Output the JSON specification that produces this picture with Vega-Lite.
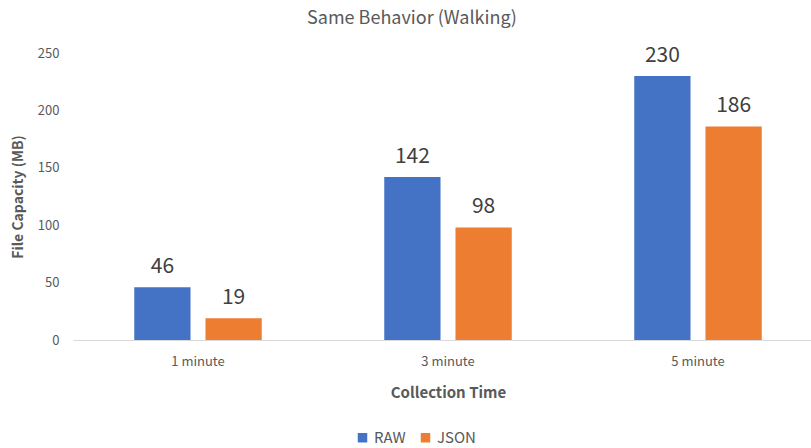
{
  "$schema": "https://vega.github.io/schema/vega-lite/v6.json",
  "width": 738,
  "height": 287,
  "autosize": "none",
  "padding": {"left": 73, "top": 53, "right": 0, "bottom": 108},
  "background": "white",
  "title": {"text": "Same Behavior (Walking)", "fontSize": 18, "font": "Noto Sans CJK KR", "fontWeight": "normal", "color": "#595959", "anchor": "middle", "frame": "group", "dx": -30, "offset": 17},
  "config": {"view": {"stroke": null}, "font": "Noto Sans CJK KR"},
  "data": {"values": [
    {"time": "1 minute", "type": "RAW", "value": 46},
    {"time": "1 minute", "type": "JSON", "value": 19},
    {"time": "3 minute", "type": "RAW", "value": 142},
    {"time": "3 minute", "type": "JSON", "value": 98},
    {"time": "5 minute", "type": "RAW", "value": 230},
    {"time": "5 minute", "type": "JSON", "value": 186}
  ]},
  "encoding": {
    "x": {"field": "time", "type": "nominal", "sort": ["1 minute", "3 minute", "5 minute"],
      "scale": {"range": [0, 750], "paddingInner": 0.49, "paddingOuter": 0.245},
      "axis": {"title": "Collection Time", "titleFontSize": 15, "titleColor": "#595959", "titleFontWeight": 600, "titlePadding": 17, "labelAngle": 0, "labelFontSize": 13, "labelColor": "#595959", "labelPadding": 15, "ticks": false, "domainColor": "#d9d9d9", "domainWidth": 1}},
    "xOffset": {"field": "type", "type": "nominal", "sort": ["RAW", "JSON"], "scale": {"paddingInner": 0.21, "paddingOuter": 0}},
    "y": {"field": "value", "type": "quantitative",
      "scale": {"domain": [0, 250]},
      "axis": {"title": "File Capacity (MB)", "titleFontSize": 14, "titleColor": "#595959", "titleFontWeight": 600, "titlePadding": 12, "values": [0, 50, 100, 150, 200, 250], "labelFontSize": 13, "labelColor": "#595959", "labelPadding": 14, "ticks": false, "domain": false, "grid": false}}
  },
  "layer": [
    {"mark": {"type": "bar"},
     "encoding": {"color": {"field": "type", "type": "nominal", "sort": ["RAW", "JSON"],
       "scale": {"domain": ["RAW", "JSON"], "range": ["#4472C4", "#ED7D31"]},
       "legend": {"title": null, "orient": "none", "direction": "horizontal", "legendX": 282, "legendY": 377, "symbolType": "square", "symbolSize": 90, "symbolStrokeWidth": 0, "labelFontSize": 15, "labelColor": "#595959", "columnPadding": 12, "labelOffset": 4}}}},
    {"mark": {"type": "text", "baseline": "alphabetic", "dy": -14, "fontSize": 21, "color": "#404040"},
     "encoding": {"text": {"field": "value", "type": "quantitative"}}}
  ]
}
